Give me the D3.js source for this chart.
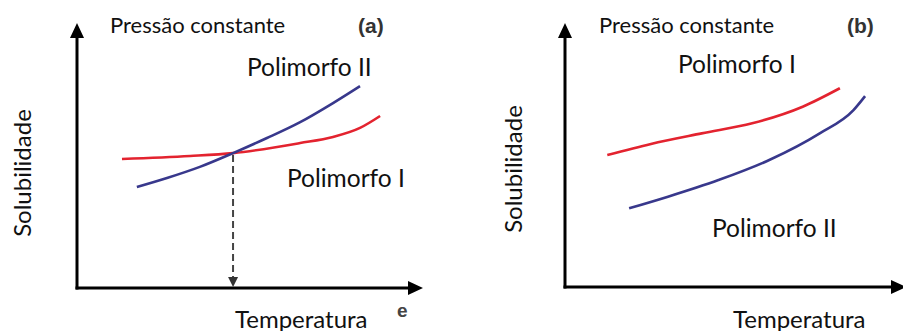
<!DOCTYPE html>
<html>
<head>
<meta charset="utf-8">
<script src="https://cdn.jsdelivr.net/npm/d3@7"></script>
<style>
  body { margin: 0; background: #fff; }
  svg { display: block; font-family: Lato, "Open Sans", sans-serif; }
</style>
</head>
<body>
<div class="chart"></div>
<script>
// Data (temperature 0-100, solubility 0-100)
const panelNames = ["(a)", "(b)"];
const titleText = "Pressão constante";
const xLabel = "Temperatura";
const yLabel = "Solubilidade";

// panel (a): curves cross
const redA = [[13.0, 48.7], [32.7, 49.8], [45.1, 50.9], [64.5, 54.7], [74.0, 57.0], [81.8, 60.4], [87.6, 64.9]];
const blueA = [[17.3, 38.1], [26.0, 41.5], [35.5, 45.7], [45.1, 50.9], [54.9, 56.6], [64.5, 62.6], [74.0, 69.8], [81.8, 76.2]];
const crossT = 45.1, crossS = 50.9;

// panel (b): no crossing
const redB = [[12.4, 50.0], [25.2, 54.2], [40.1, 58.2], [54.9, 62.0], [69.7, 68.3], [80.6, 75.3]];
const blueB = [[18.8, 29.8], [30.2, 34.2], [45.0, 40.5], [59.9, 48.1], [74.7, 58.2], [84.6, 67.0], [88.0, 72.3]];

const curveLabelsA = ["Polimorfo II", "Polimorfo I"];
const curveLabelsB = ["Polimorfo I", "Polimorfo II"];

const red = "#e3232f", blue = "#38388c";

const W = 903, H = 331;
const svg = d3.select(".chart").append("svg")
    .attr("width", W)
    .attr("height", H);

// one group per panel, scales set per panel
const panels = [
  { name: panelNames[0], x: d3.scaleLinear().domain([0, 100]).range([77, 423]),
    y: d3.scaleLinear().domain([0, 100]).range([288, 23]),
    red: redA, blue: blueA, labels: curveLabelsA },
  { name: panelNames[1], x: d3.scaleLinear().domain([0, 100]).range([565, 906]),
    y: d3.scaleLinear().domain([0, 100]).range([287, 23]),
    red: redB, blue: blueB, labels: curveLabelsB }
];

panels.forEach((p, i) => {
  const g = svg.append("g").attr("class", "panel");
  const x0 = p.x(0), y0 = p.y(0);
  const xTip = p.x(100), yTip = p.y(100);

  // axes
  g.append("line")
      .attr("x1", x0).attr("y1", y0 + 1.5)
      .attr("x2", x0).attr("y2", yTip + 12)
      .attr("stroke", "#000").attr("stroke-width", 3);
  g.append("path")
      .attr("d", `M${x0},${yTip}L${x0 - 7},${yTip + 15}L${x0 + 7},${yTip + 15}Z`)
      .attr("fill", "#000");
  g.append("line")
      .attr("x1", x0 - 1.5).attr("y1", y0)
      .attr("x2", xTip - 12).attr("y2", y0)
      .attr("stroke", "#000").attr("stroke-width", 3);
  g.append("path")
      .attr("d", `M${xTip},${y0}L${xTip - 15},${y0 - 7}L${xTip - 15},${y0 + 7}Z`)
      .attr("fill", "#000");

  const line = d3.line()
      .x(d => p.x(d[0]))
      .y(d => p.y(d[1]))
      .curve(d3.curveMonotoneX);

  if (i === 0) {
    // dashed drop from the crossing point
    g.append("line")
        .attr("x1", p.x(crossT)).attr("y1", p.y(crossS) + 2)
        .attr("x2", p.x(crossT)).attr("y2", y0 - 10)
        .attr("stroke", "#444").attr("stroke-width", 2)
        .attr("stroke-dasharray", "7,4");
    g.append("path")
        .attr("d", `M${p.x(crossT)},${y0 - 1}L${p.x(crossT) - 5},${y0 - 11}L${p.x(crossT) + 5},${y0 - 11}Z`)
        .attr("fill", "#333");
  }

  g.append("path").datum(p.red)
      .attr("d", line)
      .attr("fill", "none").attr("stroke", red).attr("stroke-width", 2.6);
  g.append("path").datum(p.blue)
      .attr("d", line)
      .attr("fill", "none").attr("stroke", blue).attr("stroke-width", 2.6);

  // texts
  g.append("text")
      .attr("x", x0 + (i === 0 ? 33 : 34)).attr("y", 33)
      .attr("font-size", 22).attr("fill", "#111")
      .text(titleText);
  g.append("text")
      .attr("x", x0 + (i === 0 ? 281 : 282)).attr("y", 33)
      .attr("font-family", "Liberation Sans, Arial, sans-serif")
      .attr("font-weight", "bold").attr("font-size", 21).attr("fill", "#333")
      .text(p.name);

  g.append("text")
      .attr("transform", `translate(${x0 - (i === 0 ? 46 : 43)},${i === 0 ? 173 : 169}) rotate(-90)`)
      .attr("text-anchor", "middle")
      .attr("font-size", 24).attr("fill", "#111")
      .text(yLabel);
  g.append("text")
      .attr("x", x0 + (i === 0 ? 158 : 168)).attr("y", 328)
      .attr("font-size", 24).attr("fill", "#111")
      .text(xLabel);

  if (i === 0) {
    g.append("text").attr("x", 247).attr("y", 76)
        .attr("font-size", 24.5).attr("fill", "#111").text(p.labels[0]);
    g.append("text").attr("x", 287).attr("y", 187)
        .attr("font-size", 24.5).attr("fill", "#111").text(p.labels[1]);
    g.append("text").attr("x", 397).attr("y", 317)
        .attr("font-family", "Liberation Sans, Arial, sans-serif")
        .attr("font-weight", "bold").attr("font-size", 19).attr("fill", "#444")
        .text("e");
  } else {
    g.append("text").attr("x", 678).attr("y", 73)
        .attr("font-size", 24.5).attr("fill", "#111").text(p.labels[0]);
    g.append("text").attr("x", 712).attr("y", 237)
        .attr("font-size", 24.5).attr("fill", "#111").text(p.labels[1]);
  }
});
</script>
</body>
</html>
